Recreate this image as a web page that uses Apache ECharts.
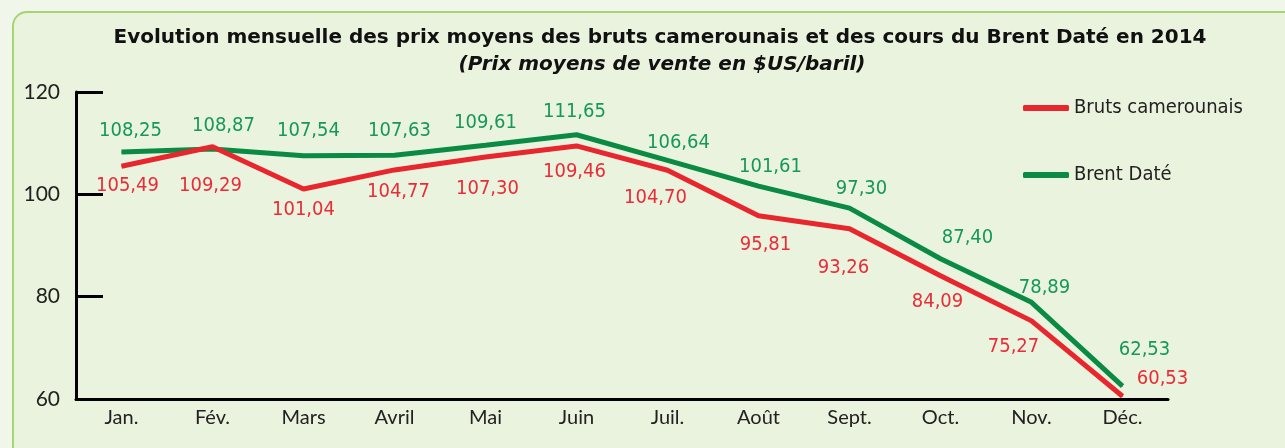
<!DOCTYPE html>
<html>
<head>
<meta charset="utf-8">
<script src="https://cdn.jsdelivr.net/npm/echarts@6/dist/echarts.min.js"></script>
<style>
  html, body { margin: 0; padding: 0; background: #f0f6ea; }
  #chart { width: 1285px; height: 448px; }
</style>
</head>
<body>
<div id="chart"></div>
<script>
var months = ['Jan.', 'Fév.', 'Mars', 'Avril', 'Mai', 'Juin', 'Juil.', 'Août', 'Sept.', 'Oct.', 'Nov.', 'Déc.'];
var brutsCamerounais = [105.49, 109.29, 101.04, 104.77, 107.30, 109.46, 104.70, 95.81, 93.26, 84.09, 75.27, 60.53];
var brentDate = [108.25, 108.87, 107.54, 107.63, 109.61, 111.65, 106.64, 101.61, 97.30, 87.40, 78.89, 62.53];

// label shifts (px) relative to each point, to keep labels clear of the lines
var redShift = [[6, 20], [-2, 39], [0, 21], [4, 22], [2, 32], [-2, 26], [-12, 28], [7, 29], [-6, 39], [-3, 26], [-18, 26], [40, -17]];
var greenShift = [[9, -21], [11, -23], [5, -25], [5, -24], [0, -22], [-2, -23], [11, -18], [12, -19], [12, -19], [27, -21], [13, -15], [22, -36]];

var RED = '#e8262d';
var GREEN = '#0b8a44';
var numFont = "'Liberation Sans Narrow', 'DejaVu Sans Condensed', 'Roboto', sans-serif";

function frNum(v) {
    return v.toFixed(2).replace('.', ',');
}

function withLabels(values, shifts) {
    return values.map(function (v, i) {
        return {
            value: v,
            label: { offset: shifts[i] }
        };
    });
}

var myChart = echarts.init(document.getElementById('chart'));

option = {
    backgroundColor: '#f0f6ea',
    animation: false,
    graphic: [{
        type: 'rect',
        left: 12,
        top: 11,
        shape: { width: 1320, height: 480, r: 14 },
        style: { fill: '#e9f3dd', stroke: '#a6d473', lineWidth: 2 },
        z: -10
    }],
    title: [{
        text: 'Evolution mensuelle des prix moyens des bruts camerounais et des cours du Brent Daté en 2014',
        left: 655,
        top: 23,
        textAlign: 'center',
        textStyle: { fontFamily: 'DejaVu Sans', fontWeight: 'bold', fontSize: 20, color: '#111' }
    }, {
        text: '(Prix moyens de vente en $US/baril)',
        left: 657,
        top: 50,
        textAlign: 'center',
        textStyle: { fontFamily: 'DejaVu Sans', fontWeight: 'bold', fontStyle: 'italic', fontSize: 20, color: '#111' }
    }],
    legend: {
        orient: 'vertical',
        left: 1018,
        top: 93,
        itemGap: 47,
        itemWidth: 46,
        itemHeight: 6,
        icon: 'roundRect',
        textStyle: { fontFamily: numFont, fontSize: 20, color: '#222' },
        data: ['Bruts camerounais', 'Brent Daté']
    },
    grid: {
        left: 76,
        right: 117,
        top: 92,
        bottom: 49
    },
    xAxis: {
        type: 'category',
        data: months,
        boundaryGap: true,
        axisLine: { lineStyle: { color: '#000', width: 3 } },
        axisTick: { inside: true, length: 7, lineStyle: { color: '#000', width: 2.5 } },
        axisLabel: { fontFamily: 'Lato', fontSize: 20, color: '#222', margin: 9 }
    },
    yAxis: {
        type: 'value',
        min: 60,
        max: 120,
        interval: 20,
        splitLine: { show: false },
        axisLine: { show: true, lineStyle: { color: '#000', width: 3 } },
        axisTick: { show: true, inside: true, length: 27, lineStyle: { color: '#000', width: 3 } },
        axisLabel: { fontFamily: 'Lato', fontSize: 21, color: '#222', margin: 16 }
    },
    series: [{
        name: 'Bruts camerounais',
        type: 'line',
        data: withLabels(brutsCamerounais, redShift),
        symbol: 'circle',
        symbolSize: 1,
        color: RED,
        lineStyle: { color: RED, width: 5 },
        itemStyle: { color: RED },
        label: {
            show: true,
            position: 'inside',
            color: '#ea2c38',
            fontFamily: numFont,
            fontSize: 20,
            formatter: function (p) { return frNum(p.value); }
        },
        z: 3
    }, {
        name: 'Brent Daté',
        type: 'line',
        data: withLabels(brentDate, greenShift),
        symbol: 'circle',
        symbolSize: 1,
        color: GREEN,
        lineStyle: { color: GREEN, width: 5 },
        itemStyle: { color: GREEN },
        label: {
            show: true,
            position: 'inside',
            color: '#17985a',
            fontFamily: numFont,
            fontSize: 20,
            formatter: function (p) { return frNum(p.value); }
        },
        z: 2
    }]
};

myChart.setOption(option);
</script>
</body>
</html>
